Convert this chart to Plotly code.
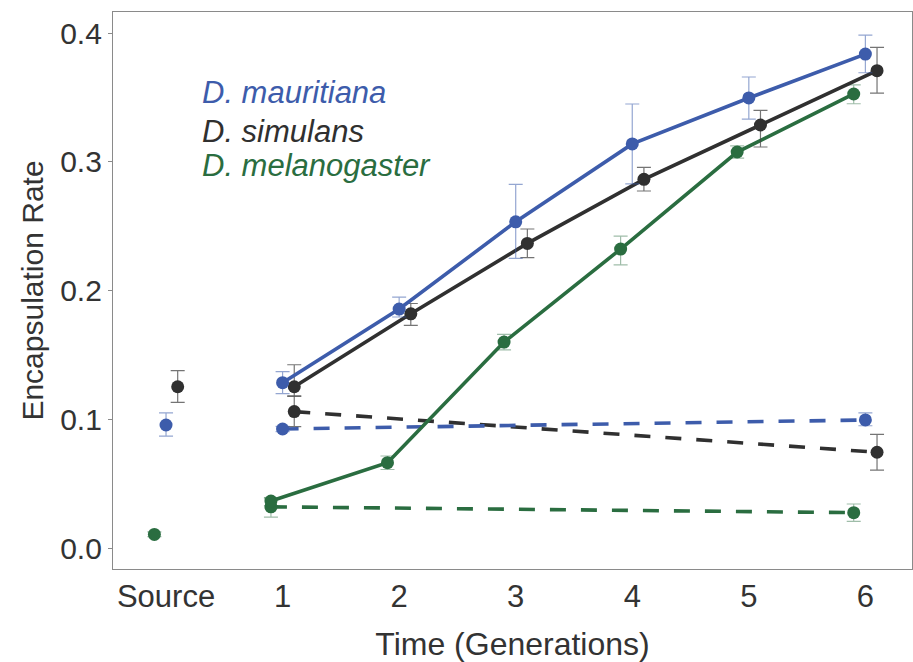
import plotly.graph_objects as go

# ---------------- data ----------------
tick_labels = ["Source", "1", "2", "3", "4", "5", "6"]
species = ["D. mauritiana", "D. simulans", "D. melanogaster"]
colors = {"D. mauritiana": "#3D5CAB", "D. simulans": "#303030", "D. melanogaster": "#2A6D40"}
err_colors = {"D. mauritiana": "rgba(61,92,171,0.55)", "D. simulans": "rgba(70,70,70,0.75)",
              "D. melanogaster": "rgba(42,109,64,0.45)"}
dodge = {"D. mauritiana": 0.0, "D. simulans": 0.1, "D. melanogaster": -0.1}

# source population
source_val = {"D. mauritiana": 0.0956, "D. simulans": 0.1253, "D. melanogaster": 0.0106}
source_hi = {"D. mauritiana": 0.105, "D. simulans": 0.1378, "D. melanogaster": 0.0125}
source_lo = {"D. mauritiana": 0.087, "D. simulans": 0.1132, "D. melanogaster": 0.0088}

# selected lines, generations 1..6
gens = [1, 2, 3, 4, 5, 6]
sel_val = {
    "D. mauritiana": [0.1285, 0.1857, 0.2535, 0.3140, 0.3497, 0.3838],
    "D. simulans": [0.1253, 0.1820, 0.2367, 0.2865, 0.3287, 0.3709],
    "D. melanogaster": [0.0365, 0.0663, 0.1600, 0.2323, 0.3077, 0.3528],
}
sel_hi = {
    "D. mauritiana": [0.1370, 0.1950, 0.2826, 0.3450, 0.3660, 0.3986],
    "D. simulans": [0.1424, 0.1900, 0.2479, 0.2958, 0.3400, 0.3890],
    "D. melanogaster": [0.0390, 0.0715, 0.1660, 0.2424, 0.3124, 0.3598],
}
sel_lo = {
    "D. mauritiana": [0.1200, 0.1795, 0.2251, 0.2830, 0.3333, 0.3693],
    "D. simulans": [0.1180, 0.1730, 0.2256, 0.2774, 0.3116, 0.3535],
    "D. melanogaster": [0.0330, 0.0610, 0.1540, 0.2200, 0.3030, 0.3452],
}

# control lines, generations 1 and 6
ctrl_gens = [1, 6]
ctrl_val = {"D. mauritiana": [0.0925, 0.0995], "D. simulans": [0.1060, 0.0744],
            "D. melanogaster": [0.0320, 0.0275]}
ctrl_hi = {"D. mauritiana": [0.0945, 0.1050], "D. simulans": [0.1180, 0.0883],
           "D. melanogaster": [0.0390, 0.0342]}
ctrl_lo = {"D. mauritiana": [0.0905, 0.0950], "D. simulans": [0.0943, 0.0606],
           "D. melanogaster": [0.0240, 0.0207]}

FONT = "Liberation Sans, Arial, sans-serif"
TXT = "#333333"

fig = go.Figure()


def err(vals, hi, lo, col):
    return dict(type="data", symmetric=False,
                array=[h - v for h, v in zip(hi, vals)],
                arrayminus=[v - l for v, l in zip(vals, lo)],
                color=col, thickness=1.2, width=7)


order = ["D. melanogaster", "D. simulans", "D. mauritiana"]
for sp in order:
    c = colors[sp]
    ec = err_colors[sp]
    d = dodge[sp]
    # control (dashed)
    fig.add_trace(go.Scatter(
        x=[g + d for g in ctrl_gens], y=ctrl_val[sp], mode="lines+markers",
        line=dict(color=c, width=3.6, dash="16px,15px"),
        marker=dict(color=c, size=13),
        error_y=err(ctrl_val[sp], ctrl_hi[sp], ctrl_lo[sp], ec),
        showlegend=False, hoverinfo="skip"))
for sp in order:
    c = colors[sp]
    ec = err_colors[sp]
    d = dodge[sp]
    # selected (solid)
    fig.add_trace(go.Scatter(
        x=[g + d for g in gens], y=sel_val[sp], mode="lines+markers",
        line=dict(color=c, width=3.6),
        marker=dict(color=c, size=13),
        error_y=err(sel_val[sp], sel_hi[sp], sel_lo[sp], ec),
        showlegend=False, hoverinfo="skip"))
    # source
    fig.add_trace(go.Scatter(
        x=[0 + d], y=[source_val[sp]], mode="markers",
        marker=dict(color=c, size=13),
        error_y=err([source_val[sp]], [source_hi[sp]], [source_lo[sp]], ec),
        showlegend=False, hoverinfo="skip"))

# legend as coloured text
leg_y = [0.354, 0.324, 0.297]
for sp, yy in zip(species, leg_y):
    fig.add_annotation(x=0.295, y=yy, xref="x", yref="y", text="<i>%s</i>" % sp,
                       showarrow=False, xanchor="left", yanchor="middle",
                       font=dict(family=FONT, size=31, color=colors[sp]))

fig.update_layout(
    width=913, height=662,
    margin=dict(l=113, r=1, t=12, b=93),
    paper_bgcolor="white", plot_bgcolor="white",
    font=dict(family=FONT, size=30, color=TXT),
    xaxis=dict(range=[-0.455, 6.40], tickvals=list(range(7)), ticktext=tick_labels,
               showgrid=False, zeroline=False, showline=True, linecolor="#8a8a8a",
               linewidth=1.2, mirror=True, ticks="", ticklen=0,
               tickfont=dict(family=FONT, size=31, color=TXT),
               title=dict(text="Time (Generations)", standoff=22,
                          font=dict(family=FONT, size=32, color=TXT))),
    yaxis=dict(range=[-0.0163, 0.4165], tickvals=[0, 0.1, 0.2, 0.3, 0.4],
               ticktext=["0.0", "0.1", "0.2", "0.3", "0.4"],
               showgrid=False, zeroline=False, showline=True, linecolor="#8a8a8a",
               linewidth=1.2, mirror=True, ticks="outside", ticklen=4,
               tickcolor="#8a8a8a", tickfont=dict(family=FONT, size=30, color=TXT),
               title=dict(text="Encapsulation Rate", standoff=7,
                          font=dict(family=FONT, size=30, color=TXT))),
)

fig.write_html("out.html")
